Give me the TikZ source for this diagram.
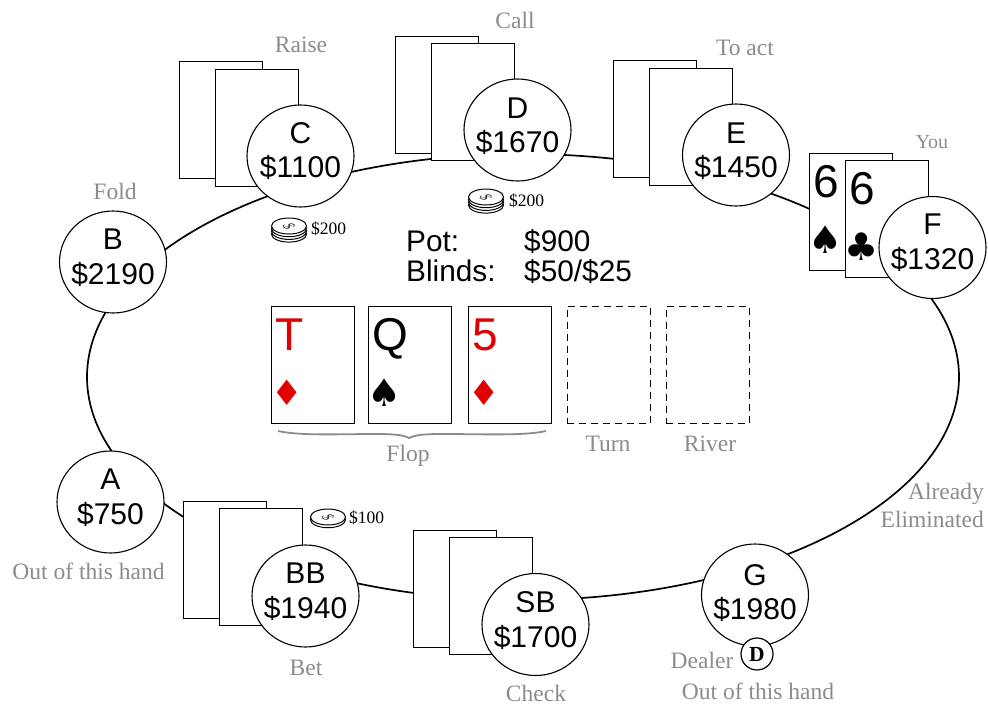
\documentclass[tikz,border=0pt]{standalone}
\usepackage{fontspec}
\usetikzlibrary{shapes.geometric}
\setmainfont{Liberation Sans}
\newfontfamily\serifl{Liberation Serif}
\newfontfamily\suitf{DejaVu Sans}
\definecolor{lblgray}{HTML}{8C8C8C}
\definecolor{cardred}{HTML}{E00000}
\tikzset{
  seat/.style={ellipse,draw=black,line width=1.1pt,fill=white,minimum width=107pt,minimum height=102pt,inner sep=0pt},
  seatt/.style={inner sep=0pt,anchor=base,font=\fontsize{30}{34}\selectfont},
  cardbox/.style={rectangle,draw=black,line width=1pt,fill=white,minimum width=83.5pt,minimum height=117pt,inner sep=0pt,anchor=north west,outer sep=0pt},
  emptycard/.style={cardbox,dash pattern=on 7pt off 5pt,fill=none},
  rankt/.style={inner sep=0pt,anchor=base west,font=\fontsize{46}{46}\selectfont},
  suitt/.style={inner sep=0pt,anchor=center,font=\suitf\fontsize{38}{38}\selectfont},
  suitd/.style={suitt,font=\suitf\fontsize{35}{35}\selectfont},
  lbl/.style={inner sep=0pt,anchor=base,text=lblgray,font=\serifl\fontsize{23.5}{24}\selectfont},
  potl/.style={inner sep=0pt,anchor=base west,font=\fontsize{29.8}{30}\selectfont},
  chipl/.style={inner sep=0pt,anchor=base west,font=\serifl\fontsize{17.5}{18}\selectfont},
  chipd/.style={inner sep=0pt,yscale=.6,rotate=-65,transform shape,text=black!80,font=\serifl\fontsize{17}{17}\selectfont},
  chipe/.style={draw=black,line width=1pt,fill=white},
}
\newcommand{\cardat}[3]{\node[cardbox] (#1) at (#2,#3) {};}
\newcommand{\faceat}[7][suitt]{% style,name,x,y,rank,suit,color
  \node[cardbox] (#2) at (#3,#4) {};
  \node[rankt,text=#7] (#2r) at (#3+4,#4+44) {#5};
  \node[#1,text=#7] (#2s) at (#3+16.5,#4+87) {#6};
}
\newcommand{\chipsat}[4]{% name,x,y(top),layers
  \foreach \i in {#4,...,0} {\path[chipe] (#2,#3+2.7*\i) ellipse [x radius=17.5pt,y radius=8pt];}
  \node[chipd] (#1) at (#2,#3) {\$};
}
\newcommand{\seatat}[7]{% name,cx,cy,letter,money,base1,base2
  \node[seat] (#1) at (#2,#3) {};
  \node[seatt] (#1n) at (#2,#6) {#4};
  \node[seatt] (#1m) at (#2,#7) {#5};
}
\begin{document}
\begin{tikzpicture}[x=1pt,y=-1pt]
\useasboundingbox (0,0) rectangle (988,704);
\fill[white] (0,0) rectangle (988,704);
% table
\draw[line width=1.7pt] (523,377) ellipse [x radius=436pt,y radius=223pt];
% hole cards
\cardat{c1}{179}{61}\cardat{c2}{215}{69}
\cardat{d1}{395}{36}\cardat{d2}{431}{43}
\cardat{e1}{613}{60}\cardat{e2}{649}{68}
\cardat{b1}{183}{501}\cardat{b2}{219}{508}
\cardat{s1}{413}{530}\cardat{s2}{449}{537}
\faceat{f1}{809}{153}{6}{♠}{black}
\faceat{f2}{845}{160}{6}{♣}{black}
% board
\faceat[suitd]{t1}{271}{306}{T}{♦}{cardred}
\faceat{t2}{368}{306}{Q}{♠}{black}
\faceat[suitd]{t3}{468}{306}{5}{♦}{cardred}
\node[emptycard] (turn) at (567,306) {};
\node[emptycard] (river) at (666,306) {};
% brace
\draw[lblgray,line width=1.8pt] (278,431) .. controls (300,436) and (340,434) .. (375,434) .. controls (395,434) and (403,435) .. (409,438) .. controls (415,435) and (423,434) .. (443,434) .. controls (480,434) and (525,436) .. (546,431);
% seats
\seatat{A}{110.5}{502}{A}{\$750}{489}{524}
\seatat{B}{113}{262}{B}{\$2190}{249}{284}
\seatat{C}{300.5}{156}{C}{\$1100}{143}{177}
\seatat{D}{517.5}{130}{D}{\$1670}{118}{152}
\seatat{E}{736}{155}{E}{\$1450}{143}{177}
\seatat{F}{932.5}{247.5}{F}{\$1320}{234}{269}
\seatat{BB}{305.5}{596}{BB}{\$1940}{583}{618}
\seatat{SB}{535.5}{624.5}{SB}{\$1700}{612}{647}
\seatat{G}{755}{595}{G}{\$1980}{585}{619}
\node[circle,draw=black,line width=1.2pt,fill=white,minimum size=32pt,inner sep=0pt,font=\serifl\bfseries\fontsize{21.5}{22}\selectfont] (dealer) at (757,654) {D};
% pot
\node[potl] (pot) at (406,251) {Pot:};
\node[potl] (potv) at (524,251) {\$900};
\node[potl] (bl) at (406,281) {Blinds:};
\node[potl] (blv) at (524,281) {\$50/\$25};
% chips
\chipsat{ch1}{289}{226}{3}
\node[chipl] (ch1l) at (311,234) {\$200};
\chipsat{ch2}{486}{197}{3}
\node[chipl] (ch2l) at (509,206) {\$200};
\chipsat{ch3}{328}{517}{1}
\node[chipl] (ch3l) at (349,523) {\$100};
% labels
\node[lbl] (l1) at (115,199) {Fold};
\node[lbl] (l2) at (301,52) {Raise};
\node[lbl] (l3) at (515,28) {Call};
\node[lbl] (l4) at (745,55) {To act};
\node[lbl,font=\serifl\fontsize{20}{20}\selectfont] (l5) at (932,148) {You};
\node[lbl,anchor=base east] (l6) at (984,499) {Already};
\node[lbl,anchor=base east] (l7) at (984,527) {Eliminated};
\node[lbl] (l8) at (88.5,579) {Out of this hand};
\node[lbl] (l9) at (306,675) {Bet};
\node[lbl] (l10) at (536,701) {Check};
\node[lbl] (l11) at (702,668) {Dealer};
\node[lbl] (l12) at (758,699) {Out of this hand};
\node[lbl] (l13) at (408,461) {Flop};
\node[lbl] (l14) at (608,451) {Turn};
\node[lbl] (l15) at (710,451) {River};
\end{tikzpicture}
\end{document}
